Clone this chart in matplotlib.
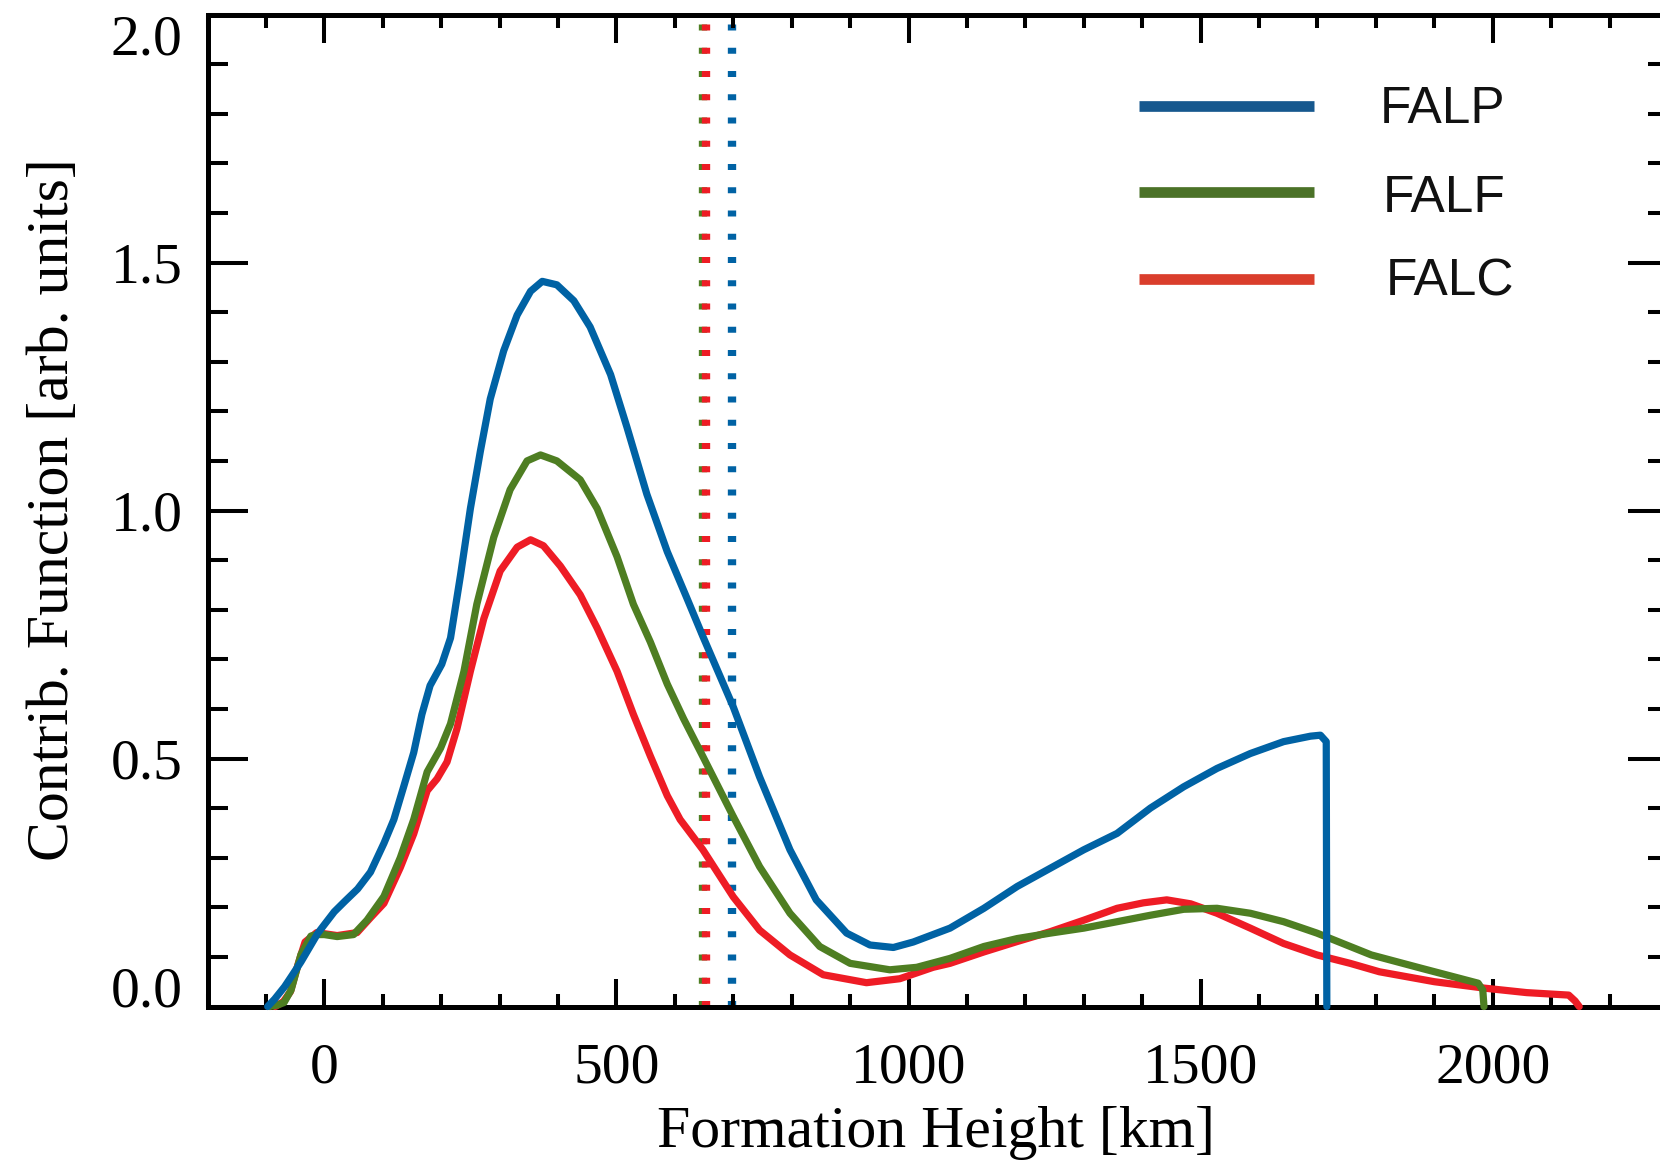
import matplotlib
matplotlib.use("Agg")
import matplotlib.pyplot as plt
from matplotlib.lines import Line2D
from matplotlib.ticker import MultipleLocator

# ---- contribution functions (height in km, arbitrary units) ----
falp_h = [-97, -85, -68, -55, -40, -25, -11, 0, 17, 35, 57, 79, 102, 119, 136, 153,
          167, 181, 201, 216, 233, 250, 267, 284, 307, 330, 353, 373, 398, 427, 455,
          490, 518, 552, 587, 620, 648, 700, 745, 797, 842, 894, 934, 974, 1008,
          1071, 1129, 1186, 1243, 1300, 1357, 1414, 1471, 1528, 1585, 1642, 1688,
          1705, 1715, 1716]
falp_c = [0.0, 0.015, 0.040, 0.063, 0.090, 0.120, 0.148, 0.165, 0.191, 0.212, 0.237,
          0.271, 0.329, 0.377, 0.444, 0.512, 0.589, 0.647, 0.690, 0.743, 0.869, 1.004,
          1.119, 1.225, 1.322, 1.394, 1.442, 1.462, 1.455, 1.423, 1.370, 1.274, 1.168,
          1.033, 0.917, 0.825, 0.746, 0.604, 0.463, 0.316, 0.215, 0.148, 0.124, 0.119,
          0.130, 0.158, 0.198, 0.242, 0.279, 0.316, 0.349, 0.400, 0.443, 0.480, 0.510,
          0.534, 0.545, 0.547, 0.534, 0.0]

falf_h = [-94, -80, -69, -57, -40, -23, -13, 0, 22, 50, 73, 102, 130, 153, 176, 199,
          216, 239, 261, 290, 318, 347, 370, 398, 438, 467, 501, 529, 558, 587, 615,
          648, 700, 745, 797, 848, 900, 968, 1014, 1071, 1129, 1186, 1243, 1300, 1357,
          1414, 1471, 1528, 1585, 1642, 1699, 1756, 1792, 1878, 1975, 1983, 1985]
falf_c = [0.0, 0.003, 0.008, 0.033, 0.105, 0.142, 0.145, 0.145, 0.141, 0.145, 0.174,
          0.222, 0.300, 0.377, 0.473, 0.521, 0.570, 0.676, 0.811, 0.946, 1.042, 1.100,
          1.112, 1.100, 1.062, 1.004, 0.907, 0.811, 0.735, 0.650, 0.580, 0.504, 0.383,
          0.282, 0.188, 0.121, 0.087, 0.074, 0.079, 0.097, 0.121, 0.137, 0.148, 0.158,
          0.171, 0.184, 0.196, 0.198, 0.188, 0.171, 0.148, 0.121, 0.104, 0.077, 0.047,
          0.033, 0.0]

falc_h = [-84, -70, -58, -45, -33, -13, 22, 56, 79, 102, 130, 153, 176, 193, 210, 227,
          250, 273, 301, 330, 353, 375, 404, 438, 467, 501, 529, 558, 587, 609, 648,
          700, 745, 797, 854, 928, 985, 1042, 1071, 1129, 1186, 1243, 1300, 1357, 1402,
          1442, 1483, 1528, 1585, 1642, 1699, 1756, 1806, 1900, 1986, 2058, 2130, 2141,
          2148]
falc_c = [0.0, 0.010, 0.030, 0.085, 0.130, 0.149, 0.143, 0.149, 0.179, 0.208, 0.280,
          0.348, 0.435, 0.459, 0.493, 0.560, 0.676, 0.782, 0.878, 0.926, 0.941, 0.929,
          0.888, 0.830, 0.763, 0.676, 0.589, 0.505, 0.425, 0.377, 0.316, 0.221, 0.154,
          0.104, 0.064, 0.048, 0.056, 0.079, 0.087, 0.110, 0.131, 0.151, 0.174, 0.198,
          0.209, 0.215, 0.207, 0.188, 0.158, 0.127, 0.104, 0.087, 0.070, 0.050, 0.037,
          0.028, 0.023, 0.011, 0.0]

# mean formation heights (km)
mean_heights = {"FALF": 647.5, "FALC": 654.0, "FALP": 698.0}

legend_labels = ["FALP", "FALF", "FALC"]
x_ticks = [0, 500, 1000, 1500, 2000]
y_ticks = [0.0, 0.5, 1.0, 1.5, 2.0]

c_blue, c_green, c_red = "#0062A4", "#4E7E22", "#EE1C25"
leg_colors = {"FALP": "#16588E", "FALF": "#4B7228", "FALC": "#DA3E2C"}

W, H = 1660, 1167
fig = plt.figure(figsize=(W / 100, H / 100), dpi=100)
ax = fig.add_axes([207.5 / W, (H - 1006.5) / H, 1460.5 / W, 992 / H])

serif = ["Liberation Serif", "DejaVu Serif"]

# vertical dotted markers for the mean heights
dot_lw = 6.0
dots = (0, (0.72, 2.07))
ax.plot([mean_heights["FALF"]] * 2, [0, 2], color=c_green, lw=dot_lw, ls=dots, zorder=1)
ax.plot([mean_heights["FALC"]] * 2, [0, 2], color=c_red, lw=dot_lw, ls=dots, zorder=1.1)
ax.plot([mean_heights["FALP"]] * 2, [0, 2], color=c_blue, lw=dot_lw, ls=dots, zorder=1.2)

curve_kw = dict(lw=5.2, solid_joinstyle="round", solid_capstyle="round", clip_on=False)
ax.plot(falc_h, falc_c, color=c_red, zorder=3, **curve_kw)
ax.plot(falf_h, falf_c, color=c_green, zorder=3.1, **curve_kw)
ax.plot(falp_h, falp_c, color=c_blue, zorder=3.2, **curve_kw)

ax.set_xlim(-200, 2300)
ax.set_ylim(0, 2.0)
ax.set_xticks(x_ticks)
ax.set_yticks(y_ticks)
ax.xaxis.set_minor_locator(MultipleLocator(100))
ax.yaxis.set_minor_locator(MultipleLocator(0.1))
ax.set_xticklabels([str(v) for v in x_ticks], fontfamily=serif, fontsize=41.5)
ax.set_yticklabels([f"{v:.1f}" for v in y_ticks], fontfamily=serif, fontsize=41.5)

for sp in ax.spines.values():
    sp.set_linewidth(3.6)

ax.tick_params(axis="both", which="both", direction="in", width=2.9, color="black",
               top=True, right=True)
ax.tick_params(axis="x", which="major", length=20, pad=26)
ax.tick_params(axis="x", which="minor", length=9.4)
ax.tick_params(axis="y", which="major", length=29, pad=18)
ax.tick_params(axis="y", which="minor", length=14.4)

ylabels = ax.get_yticklabels()
ylabels[0].set_va("baseline")
ylabels[-1].set_va("top")

fig.text(935.5 / W, (H - 1147) / H, "Formation Height [km]", ha="center",
         va="baseline", fontsize=43, fontfamily=serif)
fig.text(68.5 / W, 1 - 510 / H, "Contrib. Function [arb. units]", rotation=90,
         rotation_mode="anchor", ha="center", va="baseline", fontsize=43,
         fontfamily=serif)

# legend drawn as plain strokes and labels
leg_y = {"FALP": 105.7, "FALF": 192.0, "FALC": 279.0}
txt_x = {"FALP": 1380, "FALF": 1383, "FALC": 1386}
txt_base = {"FALP": 123, "FALF": 212, "FALC": 296}
for name in legend_labels:
    y = 1 - leg_y[name] / H
    fig.add_artist(Line2D([1139 / W, 1314 / W], [y, y], transform=fig.transFigure,
                          color=leg_colors[name], lw=7.7, solid_capstyle="butt"))
    fig.text(txt_x[name] / W, 1 - txt_base[name] / H, name, ha="left", va="baseline",
             fontsize=37, fontfamily=["Liberation Sans", "DejaVu Sans"],
             color="#111111")

fig.savefig("out.png", dpi=100)
